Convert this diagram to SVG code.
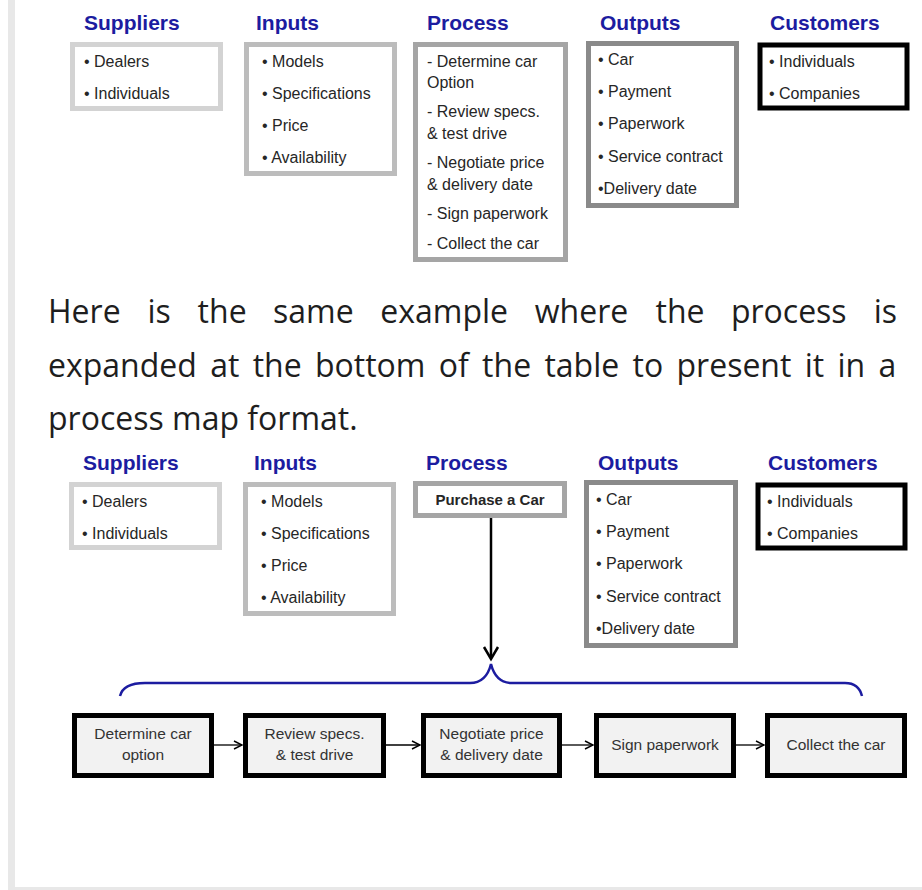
<svg xmlns="http://www.w3.org/2000/svg" width="922" height="890" viewBox="0 0 922 890">
<style>
.hd{font-family:"Liberation Sans",Arial,sans-serif;font-weight:bold;font-size:21px;fill:#1c1ca0}
.tx{font-family:"Liberation Sans",Arial,sans-serif;font-size:16px;fill:#262626}
.ct{font-family:"Liberation Sans",Arial,sans-serif;font-size:15.5px;fill:#333;text-anchor:middle}
.pb{font-family:"Open Sans","Noto Sans",sans-serif;font-size:32px;fill:#1e1e1e}
.bx{fill:#fff;stroke-width:5}
.fl{fill:#f2f2f2;stroke:#000;stroke-width:5}
.cn{stroke:#000;stroke-width:1.3;fill:none}
</style>
<defs>
<marker id="ah" markerUnits="userSpaceOnUse" markerWidth="12" markerHeight="12" refX="9" refY="5" orient="auto">
<path d="M1,1 L9,5 L1,9" fill="none" stroke="#000" stroke-width="1.4"/>
</marker>
</defs>
<rect x="8" y="0" width="7" height="890" fill="#e8e8e8"/>
<rect x="8" y="887" width="914" height="3" fill="#e8e8e8"/>

<!-- Top table -->
<g id="top-suppliers">
<text class="hd" x="84" y="30">Suppliers</text>
<rect class="bx" x="72.5" y="44.5" width="148" height="64" stroke="#d3d3d3"/>
<text class="tx" x="84" y="67">• Dealers</text>
<text class="tx" x="84" y="99">• Individuals</text>
</g>
<g id="top-inputs">
<text class="hd" x="256" y="30">Inputs</text>
<rect class="bx" x="246.5" y="44.5" width="148" height="129" stroke="#bcbcbc"/>
<text class="tx" x="262" y="67">• Models</text>
<text class="tx" x="262" y="99">• Specifications</text>
<text class="tx" x="262" y="131">• Price</text>
<text class="tx" x="262" y="163">• Availability</text>
</g>
<g id="top-process">
<text class="hd" x="427" y="30">Process</text>
<rect class="bx" x="415.5" y="44.5" width="150" height="215" stroke="#a5a5a5"/>
<text class="tx" x="427" y="67">- Determine car</text>
<text class="tx" x="427" y="88">Option</text>
<text class="tx" x="427" y="117">- Review specs.</text>
<text class="tx" x="427" y="139">&amp; test drive</text>
<text class="tx" x="427" y="168">- Negotiate price</text>
<text class="tx" x="427" y="190">&amp; delivery date</text>
<text class="tx" x="427" y="219">- Sign paperwork</text>
<text class="tx" x="427" y="249">- Collect the car</text>
</g>
<g id="top-outputs">
<text class="hd" x="600" y="30">Outputs</text>
<rect class="bx" x="588.5" y="43.5" width="148" height="162" stroke="#8a8a8a"/>
<text class="tx" x="598" y="65">• Car</text>
<text class="tx" x="598" y="97">• Payment</text>
<text class="tx" x="598" y="129">• Paperwork</text>
<text class="tx" x="598" y="162">• Service contract</text>
<text class="tx" x="598" y="194">•Delivery date</text>
</g>
<g id="top-customers">
<text class="hd" x="770" y="30">Customers</text>
<rect class="bx" x="760" y="45" width="147" height="63" stroke="#000" stroke-width="6"/>
<text class="tx" x="769" y="67">• Individuals</text>
<text class="tx" x="769" y="99">• Companies</text>
</g>

<!-- Paragraph -->
<g id="paragraph">
<text class="pb" y="323"><tspan x="48">Here</tspan><tspan x="147.5">is</tspan><tspan x="197.6">the</tspan><tspan x="273">same</tspan><tspan x="380.3">example</tspan><tspan x="534.8">where</tspan><tspan x="655.5">the</tspan><tspan x="730.9">process</tspan><tspan x="897" text-anchor="end">is</tspan></text>
<text class="pb" x="48" y="377" word-spacing="5">expanded at the bottom of the table to present it in a</text>
<text class="pb" x="48" y="430">process map format.</text>
</g>

<!-- Bottom table -->
<g id="bot-suppliers">
<text class="hd" x="83" y="470">Suppliers</text>
<rect class="bx" x="71.5" y="484.5" width="148" height="63" stroke="#d3d3d3"/>
<text class="tx" x="82" y="507">• Dealers</text>
<text class="tx" x="82" y="539">• Individuals</text>
</g>
<g id="bot-inputs">
<text class="hd" x="254" y="470">Inputs</text>
<rect class="bx" x="245.5" y="484.5" width="148" height="129" stroke="#bcbcbc"/>
<text class="tx" x="261" y="507">• Models</text>
<text class="tx" x="261" y="539">• Specifications</text>
<text class="tx" x="261" y="571">• Price</text>
<text class="tx" x="261" y="603">• Availability</text>
</g>
<g id="bot-process">
<text class="hd" x="426" y="470">Process</text>
<rect class="bx" x="415.5" y="483.5" width="149" height="32" stroke="#a5a5a5"/>
<text x="490" y="505" text-anchor="middle" style="font-family:'Liberation Sans',Arial,sans-serif;font-weight:bold;font-size:15px;fill:#262626">Purchase a Car</text>
</g>
<g id="bot-outputs">
<text class="hd" x="598" y="470">Outputs</text>
<rect class="bx" x="586.5" y="482.5" width="149" height="163" stroke="#8a8a8a"/>
<text class="tx" x="596" y="505">• Car</text>
<text class="tx" x="596" y="537">• Payment</text>
<text class="tx" x="596" y="569">• Paperwork</text>
<text class="tx" x="596" y="602">• Service contract</text>
<text class="tx" x="596" y="634">•Delivery date</text>
</g>
<g id="bot-customers">
<text class="hd" x="768" y="470">Customers</text>
<rect class="bx" x="758" y="485" width="147" height="63" stroke="#000" stroke-width="6"/>
<text class="tx" x="767" y="507">• Individuals</text>
<text class="tx" x="767" y="539">• Companies</text>
</g>

<!-- Process map -->
<g id="step1">
<rect class="fl" x="74.5" y="715.5" width="137" height="60"/>
<text class="ct" x="143" y="739">Determine car</text>
<text class="ct" x="143" y="760">option</text>
</g>
<g id="step2">
<rect class="fl" x="245.5" y="715.5" width="138" height="60"/>
<text class="ct" x="314.5" y="739">Review specs.</text>
<text class="ct" x="314.5" y="760">&amp; test drive</text>
</g>
<g id="step3">
<rect class="fl" x="423.5" y="715.5" width="136" height="60"/>
<text class="ct" x="491.5" y="739">Negotiate price</text>
<text class="ct" x="491.5" y="760">&amp; delivery date</text>
</g>
<g id="step4">
<rect class="fl" x="596.5" y="715.5" width="137" height="60"/>
<text class="ct" x="665" y="750">Sign paperwork</text>
</g>
<g id="step5">
<rect class="fl" x="767.5" y="715.5" width="137" height="60"/>
<text class="ct" x="836" y="750">Collect the car</text>
</g>

<g id="connectors">
<line x1="491" y1="518" x2="491" y2="657" stroke="#000" stroke-width="2.5"/>
<path d="M484,647 L491,659 L498,647" fill="none" stroke="#000" stroke-width="2.5"/>
<path d="M120,696 C122,688 130,683 145,683 L470,683 C482,683 488,676 491,664 C494,676 500,683 512,683 L845,683 C855,683 860,688 862,696" fill="none" stroke="#1c1ca0" stroke-width="2.5"/>
<line class="cn" x1="214" y1="745" x2="242" y2="745" marker-end="url(#ah)"/>
<line class="cn" x1="386" y1="745" x2="420" y2="745" marker-end="url(#ah)"/>
<line class="cn" x1="562" y1="745" x2="593" y2="745" marker-end="url(#ah)"/>
<line class="cn" x1="736" y1="745" x2="764" y2="745" marker-end="url(#ah)"/>
</g>
</svg>
